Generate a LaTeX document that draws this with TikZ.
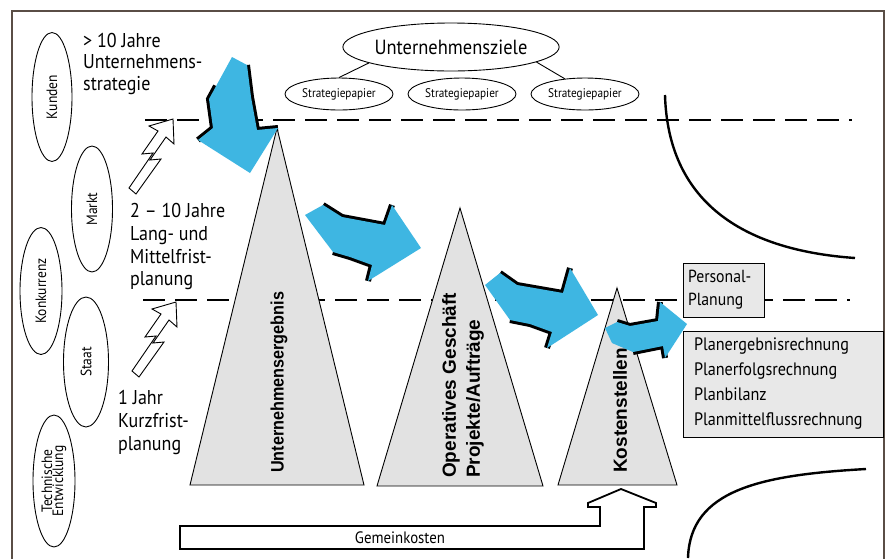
\documentclass[tikz,border=0pt]{standalone}
\usepackage{fontspec}
\setmainfont[FakeStretch=0.9]{PT Sans}
\newfontfamily\boldsans{Liberation Sans}
\newfontfamily\boldnarrow[FakeStretch=0.9]{Liberation Sans}
\usetikzlibrary{shapes.geometric}
\definecolor{arrowblue}{RGB}{62,182,226}
\definecolor{trigray}{RGB}{226,226,226}
\definecolor{boxgray}{RGB}{232,232,232}
\definecolor{framecol}{RGB}{90,78,70}
\newcommand{\boltshape}{(44,0) -- (20,7) -- (29,12) -- (13,35) -- (24,34) -- (0,69) -- (7,75) -- (32,40) -- (21,41) -- (37,18) -- (45,25) -- cycle}
\begin{document}
\begin{tikzpicture}[x=1pt,y=-1pt,line join=miter,
  envbox/.style={draw=black, ellipse, line width=0.9, inner sep=0, rotate=90, align=center, font=\fontsize{15}{14}\selectfont},
  stratbox/.style={draw=black, ellipse, line width=0.9, inner sep=0, minimum width=108, minimum height=32, font=\fontsize{12.5}{13}\selectfont},
  lbl/.style={inner sep=0, anchor=base west, font=\fontsize{20}{22}\selectfont},
  tri/.style={draw=black, fill=trigray, line width=0.9},
  trilabel/.style={rotate=90, anchor=west, inner sep=0, align=left},
  shadowline/.style={line width=6, black, line cap=butt, line join=miter, miter limit=2},
  bluefill/.style={fill=arrowblue},
  boltstyle/.style={draw=black, fill=white, line width=0.9, line join=miter},
  dashline/.style={line width=2.5, dash pattern=on 22 off 10},
  curveline/.style={line width=2.4},
  infobox/.style={draw=black, fill=boxgray, line width=0.9, inner sep=0, align=left}
]
\useasboundingbox (0,0) rectangle (886,558);
\fill[white] (0,0) rectangle (886,558);
\draw[framecol, line width=1.3] (12,565) -- (12,11) -- (884,11) -- (884,565);

% dashed horizon lines
\draw[dashline] (145,120) -- (852,120);
\draw[dashline, line width=2] (143,300) -- (850,300);

% curves
\draw[curveline] (665,95) .. controls (668,200) and (740,250) .. (855,258);
\draw[curveline] (688,558) .. controls (690,490) and (760,475) .. (866,469);

% environment ellipses
\node[envbox, minimum width=129, minimum height=40] (kunden) at (52,97) {Kunden};
\node[envbox, minimum width=126, minimum height=41] (markt) at (92,209) {Markt};
\node[envbox, minimum width=127, minimum height=42] (konk) at (41,291) {Konkurrenz};
\node[envbox, minimum width=130, minimum height=45] (staat) at (86,362) {Staat};
\node[envbox, minimum width=132, minimum height=42] (technik) at (54,481) {Technische\\[-3pt]Entwicklung};

% goals
\node[draw=black, ellipse, line width=0.9, inner sep=0, minimum width=215, minimum height=48, font=\fontsize{20.5}{22}\selectfont] (ziele) at (451,47) {Unternehmensziele};
\node[stratbox] (sp1) at (339,94) {Strategiepapier};
\node[stratbox] (sp2) at (462,94) {Strategiepapier};
\node[stratbox] (sp3) at (585,94) {Strategiepapier};
\draw[line width=0.9] (ziele.191) -- (sp1.90);
\draw[line width=0.9] (ziele.350) -- (sp3.143);

% time horizon texts
\node[lbl] (ha1) at (83,47) {> 10 Jahre};
\node[lbl] (ha2) at (83,68) {Unternehmens-};
\node[lbl] (ha3) at (83,90) {strategie};
\node[lbl] (hb1) at (130,217) {2 -- 10 Jahre};
\node[lbl] (hb2) at (130,240) {Lang- und};
\node[lbl] (hb3) at (130,263) {Mittelfrist-};
\node[lbl] (hb4) at (130,285) {planung};
\node[lbl] (hc1) at (118,404) {1 Jahr};
\node[lbl] (hc2) at (118,427) {Kurzfrist-};
\node[lbl] (hc3) at (118,450) {planung};

% lightning arrows
\begin{scope}[shift={(129,119)}]
  \draw[boltstyle] \boltshape;
\end{scope}
\begin{scope}[shift={(132,302)}]
  \draw[boltstyle] \boltshape;
\end{scope}

% pyramids
\filldraw[tri] (190,485) -- (277,128) -- (364,485) -- cycle;
\filldraw[tri] (377,486) -- (460,208) -- (543,486) -- cycle;
\filldraw[tri] (558,485) -- (617,288) -- (677,485) -- cycle;
\node[trilabel, font=\boldnarrow\bfseries\fontsize{18}{22}\selectfont] (t1) at (279,473) {Unternehmensergebnis};
\node[trilabel, font=\boldsans\bfseries\fontsize{19}{24}\selectfont] (t2) at (463,478) {Operatives Geschäft\\Projekte/Aufträge};
\node[trilabel, font=\boldsans\bfseries\fontsize{19}{22}\selectfont] (t3) at (620,473) {Kostenstellen};

% blue arrows
\draw[shadowline] (247,65) -- (251,97) -- (257,130) -- (278,128);
\draw[shadowline] (216,86) -- (209,99) -- (213,128) -- (198,140);
\fill[bluefill] (232,57) -- (247,65) -- (251,97) -- (257,130) -- (278,128) -- (250,173) -- (198,140) -- (213,128) -- (209,99) -- cycle;

\draw[shadowline] (323,205) -- (342,217) -- (385,225) -- (392,205);
\draw[shadowline] (333,252) -- (350,257) -- (372,265) -- (368,281);
\fill[bluefill] (305,215) -- (323,205) -- (342,217) -- (385,225) -- (392,205) -- (421,248) -- (368,281) -- (372,265) -- (350,257) -- (333,252) -- cycle;

\draw[shadowline] (500,273) -- (517,285) -- (563,293) -- (570,268);
\draw[shadowline] (510,320) -- (530,324) -- (552,332) -- (547,348);
\fill[bluefill] (485,285) -- (500,273) -- (517,285) -- (563,293) -- (570,268) -- (598,315) -- (547,348) -- (552,332) -- (530,324) -- (510,320) -- cycle;

\draw[shadowline] (617,322) -- (630,326) -- (658,321) -- (660,302);
\draw[shadowline] (633,352) -- (663,346) -- (665,358);
\fill[bluefill] (605,328) -- (617,322) -- (630,326) -- (658,321) -- (660,302) -- (687,324) -- (665,358) -- (663,346) -- (633,352) -- (612,343) -- cycle;

% boxes
\node[infobox, minimum width=81, minimum height=54, text width=71, font=\fontsize{17.5}{23}\selectfont] (personal) at (723.5,290) {Personal-\\Planung};
\node[infobox, minimum width=200, minimum height=106, text width=178, font=\fontsize{18}{25}\selectfont] (plan) at (783,384) {Planergebnisrechnung\\Planerfolgsrechnung\\Planbilanz\\Planmittelflussrechnung};

% overhead cost arrow
\draw[line width=1.8, fill=white] (180,526) -- (600,526) -- (600,507) -- (588,507) -- (588,503) -- (621,489) -- (656,503) -- (656,507) -- (644,507) -- (644,549) -- (180,549) -- cycle;
\node[font=\fontsize{16.5}{17}\selectfont, inner sep=0] (gk) at (400,538) {Gemeinkosten};
\end{tikzpicture}
\end{document}
